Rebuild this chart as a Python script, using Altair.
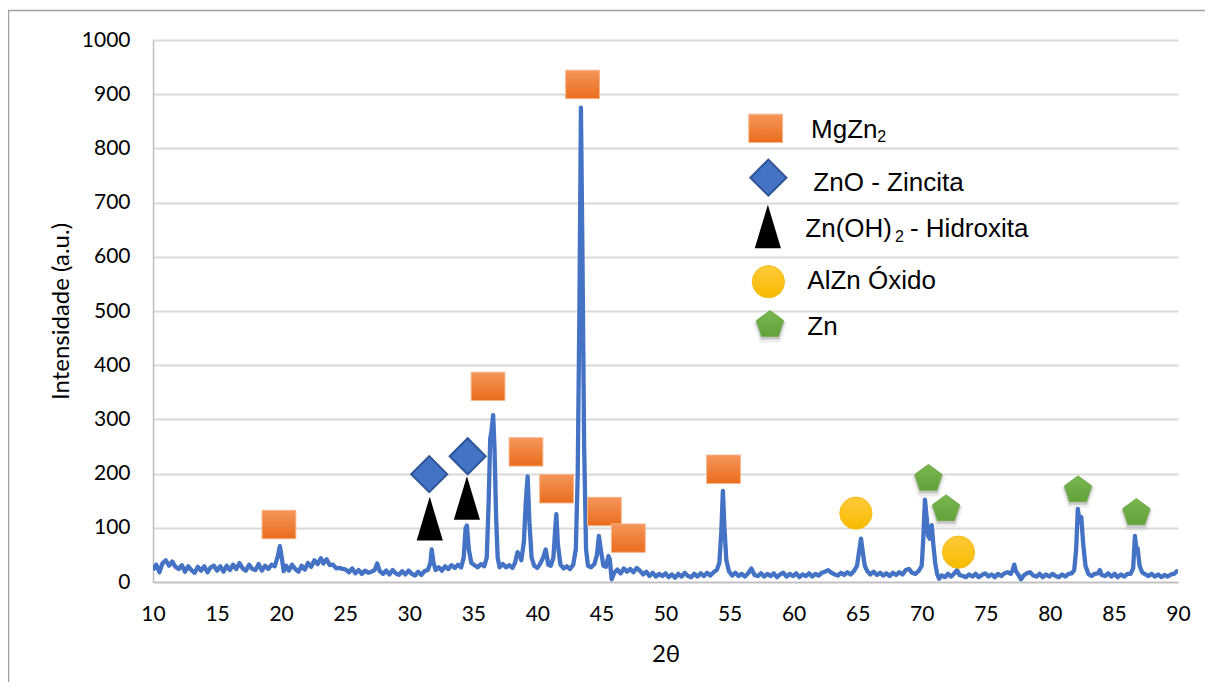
import altair as alt
import pandas as pd

# ---------------- XRD pattern ----------------
two_theta = [
    10.00, 10.25, 10.50, 10.75, 11.00, 11.25, 11.50, 11.75, 12.00, 12.25, 12.50, 12.75,
    13.00, 13.25, 13.50, 13.75, 14.00, 14.25, 14.50, 14.75, 15.00, 15.25, 15.50, 15.75,
    16.00, 16.25, 16.50, 16.75, 17.00, 17.25, 17.50, 17.75, 18.00, 18.25, 18.50, 18.75,
    19.00, 19.25, 19.50, 19.75, 19.90, 20.05, 20.20, 20.40, 20.60, 20.85, 21.10, 21.35,
    21.60, 21.85, 22.10, 22.35, 22.60, 22.85, 23.10, 23.30, 23.55, 23.80, 24.05, 24.30,
    24.55, 24.80, 25.05, 25.30, 25.55, 25.80, 26.05, 26.30, 26.55, 26.80, 27.05, 27.30,
    27.50, 27.70, 27.95, 28.20, 28.45, 28.70, 28.95, 29.20, 29.45, 29.70, 29.95, 30.20,
    30.45, 30.70, 30.95, 31.20, 31.45, 31.65, 31.75, 31.88, 32.05, 32.30, 32.55, 32.80,
    33.05, 33.30, 33.55, 33.80, 34.05, 34.25, 34.40, 34.50, 34.65, 34.85, 35.10, 35.35,
    35.60, 35.85, 36.05, 36.20, 36.32, 36.40, 36.55, 36.65, 36.78, 36.90, 37.05, 37.30,
    37.55, 37.80, 38.05, 38.25, 38.45, 38.60, 38.75, 38.95, 39.10, 39.24, 39.38, 39.55,
    39.75, 40.00, 40.20, 40.45, 40.65, 40.85, 41.05, 41.25, 41.40, 41.48, 41.60, 41.80,
    42.05, 42.30, 42.55, 42.80, 43.00, 43.15, 43.28, 43.40, 43.52, 43.65, 43.80, 43.95,
    44.20, 44.45, 44.65, 44.80, 44.95, 45.15, 45.35, 45.55, 45.65, 45.80, 46.00, 46.25,
    46.50, 46.75, 47.00, 47.25, 47.50, 47.75, 48.00, 48.25, 48.50, 48.75, 49.00, 49.25,
    49.50, 49.75, 50.00, 50.25, 50.50, 50.75, 51.00, 51.25, 51.50, 51.75, 52.00, 52.25,
    52.50, 52.75, 53.00, 53.25, 53.50, 53.75, 54.00, 54.20, 54.35, 54.48, 54.60, 54.75,
    54.95, 55.20, 55.45, 55.70, 55.95, 56.20, 56.45, 56.70, 56.95, 57.20, 57.45, 57.70,
    57.95, 58.20, 58.45, 58.70, 58.95, 59.20, 59.45, 59.70, 59.95, 60.20, 60.45, 60.70,
    60.95, 61.20, 61.45, 61.70, 61.95, 62.20, 62.45, 62.70, 62.95, 63.20, 63.45, 63.70,
    63.95, 64.20, 64.45, 64.70, 64.95, 65.10, 65.26, 65.40, 65.55, 65.75, 66.00, 66.25,
    66.50, 66.75, 67.00, 67.25, 67.50, 67.75, 68.00, 68.25, 68.50, 68.75, 69.00, 69.25,
    69.50, 69.75, 70.00, 70.12, 70.25, 70.38, 70.50, 70.62, 70.78, 70.90, 71.05, 71.20,
    71.35, 71.55, 71.80, 72.05, 72.30, 72.55, 72.75, 72.95, 73.20, 73.45, 73.70, 73.95,
    74.20, 74.45, 74.70, 74.95, 75.20, 75.45, 75.70, 75.95, 76.20, 76.45, 76.70, 76.95,
    77.10, 77.22, 77.35, 77.55, 77.75, 77.95, 78.20, 78.45, 78.70, 78.95, 79.20, 79.45,
    79.70, 79.95, 80.20, 80.45, 80.70, 80.95, 81.20, 81.45, 81.70, 81.90, 82.05, 82.18,
    82.32, 82.45, 82.60, 82.78, 83.00, 83.25, 83.50, 83.75, 83.90, 84.05, 84.30, 84.55,
    84.80, 85.05, 85.30, 85.55, 85.80, 86.05, 86.30, 86.50, 86.64, 86.75, 86.85, 87.00,
    87.20, 87.45, 87.70, 87.95, 88.20, 88.45, 88.70, 88.95, 89.20, 89.45, 89.70, 89.90,
    90.00,
]
intensity = [
    22, 32, 18, 35, 40, 30, 38, 28, 24, 31, 19, 29,
    22, 17, 28, 21, 29, 18, 27, 30, 21, 29, 19, 30,
    22, 32, 24, 35, 25, 21, 32, 24, 22, 33, 21, 30,
    24, 32, 29, 48, 66, 45, 20, 30, 21, 32, 24, 19,
    30, 23, 35, 28, 40, 33, 44, 34, 42, 31, 32, 25,
    26, 24, 23, 18, 25, 16, 22, 15, 21, 17, 19, 22,
    34, 20, 15, 21, 14, 22, 16, 13, 20, 14, 21, 15,
    12, 19, 13, 20, 22, 35, 60, 38, 22, 27, 21, 29,
    24, 31, 26, 32, 27, 45, 100, 104, 60, 35, 31, 27,
    33, 29, 45, 150, 265, 275, 308, 250, 120, 45, 27, 33,
    27, 31, 26, 35, 55, 50, 40, 75, 150, 195, 110, 45,
    30, 26, 33, 45, 60, 32, 30, 45, 100, 125, 70, 32,
    25, 29, 24, 32, 60, 200, 500, 875, 600, 250, 60, 30,
    27, 33, 50, 85, 60, 30, 28, 48, 42, 5, 17, 23,
    16, 25, 19, 24, 18, 26, 21, 14, 19, 11, 17, 10,
    15, 11, 16, 9, 14, 8, 15, 10, 17, 11, 9, 15,
    10, 16, 11, 17, 12, 18, 22, 35, 90, 168, 100, 40,
    20, 12, 17, 11, 15, 10, 16, 25, 13, 11, 16, 10,
    15, 11, 16, 9, 14, 17, 10, 15, 11, 16, 9, 14,
    11, 16, 10, 15, 12, 17, 19, 22, 17, 14, 12, 17,
    13, 18, 14, 20, 30, 55, 80, 55, 30, 20, 14, 19,
    13, 17, 12, 16, 11, 17, 13, 18, 14, 22, 24, 17,
    15, 20, 30, 80, 152, 120, 85, 80, 105, 70, 35, 15,
    6, 12, 9, 15, 10, 16, 22, 13, 11, 9, 14, 10,
    15, 9, 13, 16, 10, 14, 9, 15, 11, 16, 18, 15,
    22, 32, 20, 13, 5, 12, 16, 18, 12, 10, 15, 9,
    14, 10, 15, 11, 9, 14, 10, 15, 16, 22, 60, 135,
    110, 120, 70, 30, 15, 11, 15, 16, 22, 13, 11, 16,
    10, 15, 9, 14, 10, 15, 15, 25, 85, 60, 62, 30,
    18, 14, 11, 15, 10, 14, 9, 13, 10, 14, 15, 20,
    18,
]

# ---------------- phase markers ----------------
sq_tt = [19.83, 36.15, 39.11, 41.50, 43.53, 45.23, 47.10, 54.53]
sq_I = [106, 361, 240, 172, 918, 130, 81, 208]
dia_tt = [31.56, 34.56]
dia_I = [199, 232]
tri_tt = [31.60, 34.50]
tri_I = [117, 155]
cir_tt = [64.86, 72.87]
cir_I = [127, 55]
pen_tt = [70.52, 71.90, 82.20, 86.75]
pen_I = [193, 137, 172, 130]

# ---------------- legend (drawn inside the plot) ----------------
leg_sq_tt, leg_sq_I = [57.82], [837]
leg_dia_tt, leg_dia_I = [58.03], [746]
leg_tri_tt, leg_tri_I = [57.99], [656]
leg_cir_tt, leg_cir_I = [58.03], [554]
leg_pen_tt, leg_pen_I = [58.16], [477]
leg_text = ["MgZn", "ZnO - Zincita", "Zn(OH)", "- Hidroxita", "AlZn Óxido", "Zn"]
leg_text_tt = [61.36, 61.54, 60.91, 69.08, 61.07, 61.07]
leg_text_I = [819, 722, 637, 637, 540, 456]
leg_sub = ["2", "2"]
leg_sub_tt = [66.53, 67.91]
leg_sub_I = [811, 628]

x_ticks = list(range(10, 95, 5))
y_ticks = list(range(0, 1100, 100))

SQ_PATH = "M-1.19,-1L1.19,-1L1.19,1L-1.19,1Z"
TRI_PATH = "M0,-1L0.6,1L-0.6,1Z"
PEN_PATH = "M0,-0.905L0.951,-0.214L0.588,0.904L-0.588,0.904L-0.951,-0.214Z"

x_scale = alt.Scale(domain=[10, 90], nice=False, zero=False)
y_scale = alt.Scale(domain=[0, 1000], nice=False)

x_axis = alt.Axis(
    values=x_ticks, format="d", grid=False, ticks=False, tickSize=0, domain=True,
    domainColor="#BFBFBF", domainWidth=1.5,
    labelFont="Lato", labelFontSize=21, labelColor="#000000",
    labelPadding=38, labelBaseline="alphabetic", labelFlush=False,
    title="2θ", titleFont="Lato", titleFontSize=24, titleFontWeight="normal",
    titleColor="#000000", titleY=79, titleBaseline="alphabetic",
)
y_axis = alt.Axis(
    values=y_ticks, format="d", grid=True, gridColor="#D9D9D9", gridWidth=1.8,
    ticks=False, tickSize=0, domain=True, domainColor="#BFBFBF", domainWidth=1.5,
    labelFont="Lato", labelFontSize=21, labelColor="#000000",
    labelPadding=23, labelFlush=False,
    title="Intensidade (a.u.)", titleFont="Lato", titleFontSize=24,
    titleFontWeight="normal", titleColor="#000000", titleAngle=270,
    titleX=-85, titleY=271, titleBaseline="alphabetic", titleAlign="center",
)

line_df = pd.DataFrame({"tt": two_theta, "I": intensity})

line = alt.Chart(line_df).mark_line(
    color="#4472C4", strokeWidth=4.3, strokeJoin="round", clip=True
).encode(
    x=alt.X("tt:Q", scale=x_scale, axis=x_axis),
    y=alt.Y("I:Q", scale=y_scale, axis=y_axis),
)


def pts(tt, ii):
    return pd.DataFrame({"tt": tt, "I": ii})


def enc(ch):
    return ch.encode(x=alt.X("tt:Q"), y=alt.Y("I:Q"))


orange_grad = alt.LinearGradient(
    gradient="linear",
    stops=[alt.GradientStop(color="#F4965A", offset=0),
           alt.GradientStop(color="#EA6D1C", offset=1)],
    x1=0, x2=0, y1=0, y2=1,
)
yellow_grad = alt.LinearGradient(
    gradient="linear",
    stops=[alt.GradientStop(color="#FFCA3A", offset=0),
           alt.GradientStop(color="#F7BB00", offset=1)],
    x1=0, x2=0, y1=0, y2=1,
)
green_grad = alt.LinearGradient(
    gradient="linear",
    stops=[alt.GradientStop(color="#79B74F", offset=0),
           alt.GradientStop(color="#62A23A", offset=1)],
    x1=0, x2=0, y1=0, y2=1,
)


def squares(tt, ii):
    return enc(alt.Chart(pts(tt, ii)).mark_point(
        shape=SQ_PATH, size=807, filled=True, fill=orange_grad,
        stroke="#F6B48A", strokeWidth=1, opacity=1))


def diamonds(tt, ii):
    return enc(alt.Chart(pts(tt, ii)).mark_point(
        shape="diamond", size=1300, filled=True, fill="#4472C4",
        stroke="#2F5597", strokeWidth=2, opacity=1))


def triangles(tt, ii):
    return enc(alt.Chart(pts(tt, ii)).mark_point(
        shape=TRI_PATH, size=1900, filled=True, fill="#000000",
        strokeWidth=0, opacity=1))


def circles(tt, ii):
    return enc(alt.Chart(pts(tt, ii)).mark_point(
        shape="circle", size=1040, filled=True, fill=yellow_grad,
        stroke="#F5BE1E", strokeWidth=1, opacity=1))


def pentagons(tt, ii):
    shadow2 = enc(alt.Chart(pts(tt, ii)).mark_point(
        shape=PEN_PATH, size=1250, filled=True, fill="#9A9A9A",
        strokeWidth=0, opacity=0.18, yOffset=3))
    shadow1 = enc(alt.Chart(pts(tt, ii)).mark_point(
        shape=PEN_PATH, size=960, filled=True, fill="#7F7F7F",
        strokeWidth=0, opacity=0.35, yOffset=2))
    body = enc(alt.Chart(pts(tt, ii)).mark_point(
        shape=PEN_PATH, size=807, filled=True, fill=green_grad,
        stroke="#6BAA44", strokeWidth=1, opacity=1))
    return shadow2 + shadow1 + body


leg_txt = alt.Chart(pd.DataFrame({"tt": leg_text_tt, "I": leg_text_I, "t": leg_text})).mark_text(
    align="left", baseline="alphabetic", font="Liberation Sans", fontSize=26, color="#000000"
).encode(x="tt:Q", y="I:Q", text="t:N")

leg_subs = alt.Chart(pd.DataFrame({"tt": leg_sub_tt, "I": leg_sub_I, "t": leg_sub})).mark_text(
    align="left", baseline="alphabetic", font="Liberation Sans", fontSize=16, color="#000000"
).encode(x="tt:Q", y="I:Q", text="t:N")

one = pd.DataFrame({"a": [0]})
frame_top = alt.Chart(one).mark_rule(color="#A0A0A0", strokeWidth=1.5).encode(
    x=alt.value(-145), x2=alt.value(1100), y=alt.value(-29.5))
frame_left = alt.Chart(one).mark_rule(color="#A0A0A0", strokeWidth=1.5).encode(
    x=alt.value(-144.5), y=alt.value(-30), y2=alt.value(700))

chart = alt.layer(
    line,
    squares(sq_tt, sq_I),
    diamonds(dia_tt, dia_I),
    triangles(tri_tt, tri_I),
    circles(cir_tt, cir_I),
    pentagons(pen_tt, pen_I),
    squares(leg_sq_tt, leg_sq_I),
    diamonds(leg_dia_tt, leg_dia_I),
    triangles(leg_tri_tt, leg_tri_I),
    circles(leg_cir_tt, leg_cir_I),
    pentagons(leg_pen_tt, leg_pen_I),
    leg_txt,
    leg_subs,
    frame_top,
    frame_left,
).properties(
    width=1025,
    height=542,
    padding={"left": 145, "top": 32, "right": 27, "bottom": 100},
    autosize=alt.AutoSizeParams(type="none"),
    background="white",
).configure_view(stroke=None)

chart.save("out.html", embed_options={"renderer": "svg", "actions": False})
